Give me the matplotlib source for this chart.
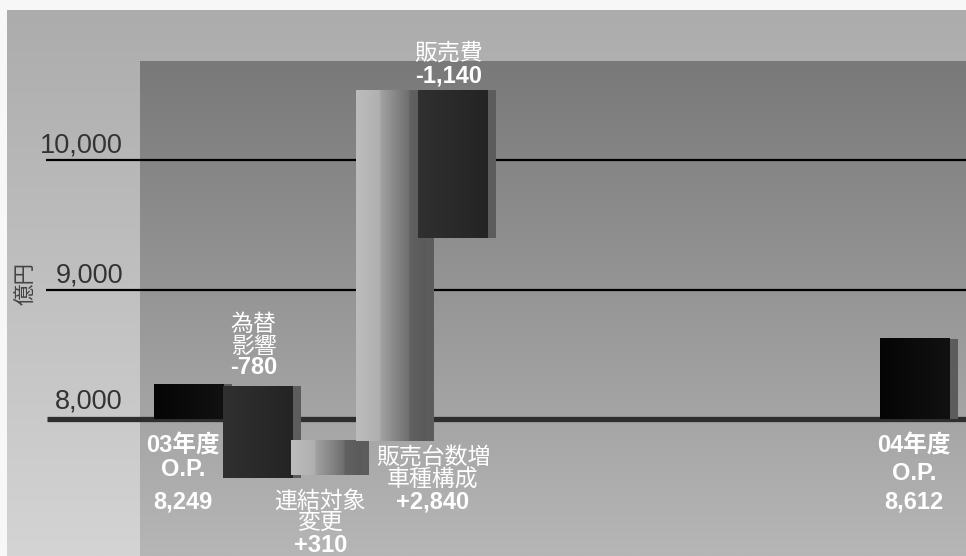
import matplotlib

matplotlib.use("Agg")
import matplotlib.pyplot as plt
import numpy as np
from matplotlib.colors import LinearSegmentedColormap

# operating profit bridge FY03 -> FY04 (億円)
categories = ["03年度\nO.P.", "為替\n影響", "連結対象\n変更", "販売台数増\n車種構成", "販売費", "04年度\nO.P."]
value_labels = ["8,249", "-780", "+310", "+2,840", "-1,140", "8,612"]
# bar extents as they are drawn in the picture (億円)
bar_low = [8000, 7545, 7570, 7830, 9400, 8000]
bar_high = [8270, 8255, 7840, 10540, 10540, 8620]
y_ticks = [8000, 9000, 10000]
y_tick_labels = ["8,000", "9,000", "10,000"]
y_unit = "億円"

# layout
W, H = 966, 556
positions = [0, 1.04, 2.08, 3.06, 4.0, 11.0]
bar_width = 1.06
shadow_width = 0.12
bar_fill = ["black", "dark", "light", "light", "dark", "black"]
label_anchor = ["low", "high", "low", "low", "high", "low"]
label_dx = [-6, -4, -6, 42, -4, -1]
label_dy = [[-27, -51, -83], [61, 39, 18], [-27, -48, -71], [-17, -39, -61], [37, 14], [-27, -54, -83]]

fills = {
    "black": LinearSegmentedColormap.from_list("black", ["#050505", "#0b0b0b", "#111111"]),
    "dark": LinearSegmentedColormap.from_list("dark", ["#303030", "#2a2a2a", "#242424"]),
    "light": LinearSegmentedColormap.from_list(
        "light", [(0, "#bcbcbc"), (0.33, "#b0b0b0"), (0.36, "#a0a0a0"), (0.75, "#707070"), (0.78, "#616161"), (1, "#5a5a5a")]
    ),
}
fonts = ["Liberation Sans", "Noto Sans CJK JP"]

fig = plt.figure(figsize=(W / 100, H / 100), dpi=100, facecolor="#f7f7f7")

# background panels (pixel coordinates)
bg = fig.add_axes([0, 0, 1, 1], zorder=0)
bg.set_axis_off()
column = np.linspace(0, 1, 256).reshape(-1, 1)
bg.imshow(column, cmap=LinearSegmentedColormap.from_list("outer", ["#acacac", "#d4d4d4"]),
          extent=(7, W, H, 10), aspect="auto")
bg.imshow(column, cmap=LinearSegmentedColormap.from_list("inner", ["#797979", "#b6b6b6"]),
          extent=(140, W, H, 61), aspect="auto")
bg.set_xlim(0, W)
bg.set_ylim(H, 0)

# chart axes: 66 px per slot (slot 0 at x=189), 0.1295 px per 億円 (8,000 at y=419)
ax = fig.add_axes([0, 0, 1, 1], zorder=1)
ax.set_axis_off()
ax.patch.set_alpha(0)
x_left, x_right = -189 / 66, (W - 189) / 66
y_bottom, y_top = 8000 - (H - 419) / 0.1295, 8000 + 419 / 0.1295

for tick, text, lift in zip(y_ticks, y_tick_labels, [11, 7, 7]):
    if tick == y_ticks[0]:
        ax.hlines(tick, (47 - 189) / 66, x_right, color="#2e2e2e", linewidth=3.8, zorder=2)
    else:
        ax.hlines(tick, (46 - 189) / 66, x_right, color="black", linewidth=1.6, zorder=2)
    ax.annotate(text, xy=((123 - 189) / 66, tick), xytext=(0, lift), textcoords="offset pixels",
                ha="right", va="baseline", fontsize=19.5, color="#333333", family=fonts)

grad = np.linspace(0, 1, 128).reshape(1, -1)
for i, (x, lo, hi) in enumerate(zip(positions, bar_low, bar_high)):
    x0 = x - bar_width / 2
    x1 = x + bar_width / 2
    ax.bar(x1 + shadow_width / 2, hi - lo, bottom=lo, width=shadow_width, color="#5c5c5c",
           linewidth=0, zorder=3 + 2 * i)
    ax.imshow(grad, cmap=fills[bar_fill[i]], extent=(x0, x1, lo, hi), aspect="auto",
              interpolation="bilinear", zorder=4 + 2 * i)

for i, (x, cat, val) in enumerate(zip(positions, categories, value_labels)):
    anchor = bar_low[i] if label_anchor[i] == "low" else bar_high[i]
    lines = cat.split("\n") + [val]
    for line, dy in zip(lines, label_dy[i]):
        has_latin = any(c.isascii() for c in line)
        ax.annotate(line, xy=(x, anchor), xytext=(label_dx[i], dy), textcoords="offset pixels",
                    ha="center", va="center", color="white", family=fonts,
                    fontsize=17 if has_latin else 16.5, fontweight="bold" if has_latin else "normal",
                    zorder=20)

ax.set_xlim(x_left, x_right)
ax.set_ylim(y_bottom, y_top)

fig.text(27 / W, 1 - 283 / H, y_unit, rotation=90, ha="center", va="center", fontsize=15.5,
         color="#444444", family=fonts)

fig.savefig("out.png", dpi=100, facecolor=fig.get_facecolor())
plt.close(fig)
